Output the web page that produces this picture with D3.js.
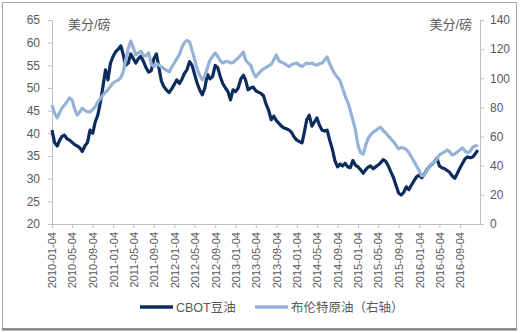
<!DOCTYPE html>
<html><head><meta charset="utf-8">
<script src="https://cdn.jsdelivr.net/npm/d3@7"></script>
<style>
html,body{margin:0;padding:0;background:#fff;}
svg{display:block;}
text{font-family:"Liberation Sans",Arial,"Noto Sans CJK SC",sans-serif;}
</style></head>
<body>
<svg id="chart" width="520" height="333"></svg>
<script>
// ---- data ----
const seriesNames = ["CBOT豆油", "布伦特原油（右轴）"];
const unitLabel = "美分/磅";
const startDate = "2010-01-04"; // semi-monthly observations from this date
const tickLabels = ["2010-01-04","2010-05-04","2010-09-04","2011-01-04","2011-05-04","2011-09-04",
  "2012-01-04","2012-05-04","2012-09-04","2013-01-04","2013-05-04","2013-09-04","2014-01-04",
  "2014-05-04","2014-09-04","2015-01-04","2015-05-04","2015-09-04","2016-01-04","2016-05-04","2016-09-04"];
const leftTicks = [20,25,30,35,40,45,50,55,60,65];
const rightTicks = [0,20,40,60,80,100,120,140];
const soyOil = [40.7,38,37.2,38.5,39.3,39.6,38.8,38.5,38.0,37.5,37.2,36.8,36.0,37.2,38.0,40.7,40.0,42.5,44.0,46.7,
  50.3,54.0,51.8,55.5,57.0,58.0,58.6,59.3,57.5,55.0,55.5,57.5,56.5,55.5,56.5,57.0,55.8,54.5,53.5,53.8,
  56.5,57.5,54.5,51.5,50.2,49.5,49.0,49.8,50.8,51.8,51.0,52.0,53.2,54.0,55.8,55.0,53.0,51.1,49.5,48.5,
  50.0,53.0,52.0,52.5,55.0,54.5,52.5,51.0,50.0,49.2,47.4,49.6,49.2,50.0,52.0,52.8,51.8,49.6,50.0,50.2,
  49.4,49.1,48.8,48.3,46.5,45.2,43.0,43.8,42.8,42.2,41.6,41.2,41.0,40.7,40.2,39.2,38.5,38.2,37.9,40.5,
  43.0,44.0,41.6,42.5,43.4,41.8,40.7,40.5,40.7,38.5,36.5,34.0,32.6,33.2,32.8,33.4,32.6,32.4,34.0,33.0,
  32.6,32.0,31.2,32.0,32.5,32.8,32.2,32.6,33.0,33.5,34.2,33.8,32.8,31.5,30.2,28.5,26.8,26.4,27.0,28.2,
  27.6,28.6,29.5,30.4,30.8,30.2,31.0,31.9,32.6,33.2,33.7,34.5,32.8,32.4,32.2,31.8,31.4,30.6,30.1,31.2,
  32.4,33.4,34.4,34.8,34.6,34.8,35.5,36.3];
const brent = [81.7,76,72.8,76.5,79.5,81.5,84,86.5,85,79,74.8,77,79.5,78,77,76.9,78.5,80.5,83.7,86,
  88.5,90.5,92,94.5,96.8,98,98.8,100.5,104,112,120.5,125.5,121,116,117.5,118.5,115.5,115.5,117.5,110,
  108,110,109,107.8,106.5,105.5,104.3,107.5,110.5,113.5,116.5,121.5,124.5,126,125,119,113,106.5,102,99,
  101.5,107,112.5,115,117.4,115,112,110.5,111.5,111.5,110.5,110.8,112.5,114,116,118,112.5,110.5,109,104,
  101,103,105,106.5,107.5,108.5,109.5,112.5,116,112,111,110.5,109,108,109.5,110,110.5,109,108,109.5,
  110.5,110,110.5,109.5,109,110,110.5,112.5,114.6,110,106,103,100.5,98.5,93,88,83.5,78,71.5,65,
  54,49,48,54,58.5,61,63,64,65.5,66.5,64,62.5,60.5,58.5,56.5,54,51.5,52.5,52,51,
  49,46,43,40,36.5,33,33.5,36.5,39,41.5,42.5,44.5,47.5,48.5,49.5,50.8,49.5,47.4,48,49.5,
  51,52.2,50,49,50,52.8,53.5,54.2];

// ---- chart ----
const parse = d3.timeParse("%Y-%m-%d");
const fmt = d3.timeFormat("%Y-%m-%d");
const t0 = parse(startDate);
const dates = soyOil.map((_, i) => d3.timeDay.offset(d3.timeMonth.offset(t0, Math.floor(i / 2)), (i % 2) * 15));

const svg = d3.select("#chart");
const L = 52, R = 480, T = 20, B = 224;
const x = d3.scaleTime().domain([parse("2010-01-04"), parse("2017-01-01")]).range([L, R]);
const yL = d3.scaleLinear().domain([20, 65]).range([B, T]);
const yR = d3.scaleLinear().domain([0, 140]).range([B, T]);

svg.append("rect").attr("x", 0).attr("y", 0).attr("width", 520).attr("height", 333).attr("fill", "#fff");
// frame
svg.append("rect").attr("x", 2.5).attr("y", 2.5).attr("width", 514).attr("height", 326)
  .attr("fill", "none").attr("stroke", "#a6a6a6").attr("stroke-width", 1);
svg.append("line").attr("x1", 2).attr("x2", 517).attr("y1", 329.5).attr("y2", 329.5)
  .attr("stroke", "#7f7f7f").attr("stroke-width", 2);

const axisColor = "#bfbfbf", textColor = "#595959";
function styleAxis(g) {
  g.select(".domain").attr("stroke", axisColor);
  g.selectAll(".tick line").attr("stroke", axisColor);
  g.selectAll(".tick text").attr("fill", textColor);
}

const gL = svg.append("g").attr("transform", `translate(${L},0)`)
  .call(d3.axisLeft(yL).tickValues(leftTicks).tickSize(4).tickSizeOuter(0).tickPadding(8));
gL.selectAll("text").attr("font-size", 12);
styleAxis(gL);

const gR = svg.append("g").attr("transform", `translate(${R},0)`)
  .call(d3.axisRight(yR).tickValues(rightTicks).tickSize(4).tickSizeOuter(0).tickPadding(6));
gR.selectAll("text").attr("font-size", 12);
styleAxis(gR);

const gX = svg.append("g").attr("transform", `translate(0,${B})`)
  .call(d3.axisBottom(x).tickValues(tickLabels.map(parse)).tickFormat(fmt).tickSize(4).tickSizeOuter(0));
gX.selectAll(".tick text").attr("font-size", 11)
  .attr("transform", "rotate(-90)").attr("text-anchor", "end")
  .attr("x", -8).attr("y", 0).attr("dy", "0.35em");
styleAxis(gX);

// unit labels
svg.append("text").attr("x", 68).attr("y", 29).attr("font-size", 13).attr("fill", textColor)
  .attr("font-family", "'Noto Sans CJK SC',sans-serif").text(unitLabel);
svg.append("text").attr("x", 472).attr("y", 29).attr("font-size", 13).attr("fill", textColor)
  .attr("text-anchor", "end").attr("font-family", "'Noto Sans CJK SC',sans-serif").text(unitLabel);

const darkC = "#0b2c5c", lightC = "#95b3d7";
const lineL = d3.line().x((d, i) => x(dates[i])).y(d => yL(d));
const lineR = d3.line().x((d, i) => x(dates[i])).y(d => yR(d));
svg.append("path").datum(soyOil).attr("d", lineL).attr("fill", "none")
  .attr("stroke", darkC).attr("stroke-width", 3.2).attr("stroke-linejoin", "round");
svg.append("path").datum(brent).attr("d", lineR).attr("fill", "none")
  .attr("stroke", lightC).attr("stroke-width", 3.2).attr("stroke-linejoin", "round");

// legend
const leg = [{name: seriesNames[0], c: darkC, x: 140}, {name: seriesNames[1], c: lightC, x: 255}];
leg.forEach(l => {
  svg.append("line").attr("x1", l.x).attr("x2", l.x + 33).attr("y1", 307).attr("y2", 307)
    .attr("stroke", l.c).attr("stroke-width", 3.5);
  svg.append("text").attr("x", l.x + 36).attr("y", 311.5).attr("font-size", 12.5).attr("fill", textColor)
    .text(l.name);
});
</script>
</body></html>
